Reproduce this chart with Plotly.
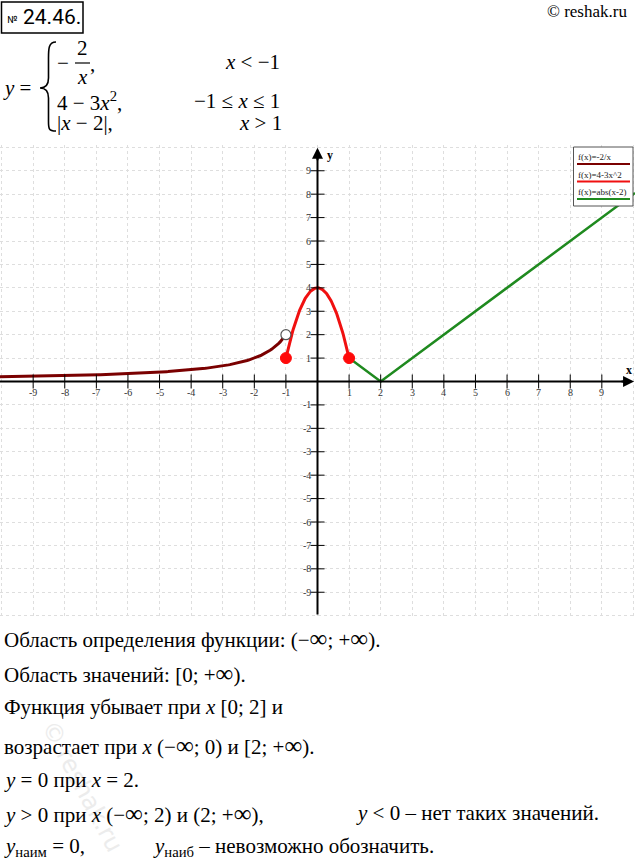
import numpy as np
import plotly.graph_objects as go

# ---------------- data ----------------
W, H = 635, 860
T_MARGIN, B_MARGIN = 145, 242
X_RANGE = [-10.05, 10.05]
Y_RANGE = [-10.1, 10.1]

x_hyp = np.linspace(-10.05, -1.0, 200)           # f(x) = -2/x, x < -1
y_hyp = -2.0 / x_hyp
x_par = np.linspace(-1.0, 1.0, 120)              # f(x) = 4 - 3x^2, -1 <= x <= 1
y_par = 4 - 3 * x_par ** 2
x_abs = np.array([1.0, 2.0, 10.05])              # f(x) = |x - 2|, x > 1
y_abs = np.abs(x_abs - 2)

filled_x = [-1, 1]
filled_y = [1, 1]
open_x = [-1]
open_y = [2]

tick_vals = [i for i in range(-9, 10) if i != 0]
legend_labels = ["f(x)=-2/x", "f(x)=4-3x^2", "f(x)=abs(x-2)"]

C_HYP = "#7a0000"
C_PAR = "#f01010"
C_ABS = "#1f8a1f"
SERIF = "Times New Roman"
SANS = "Roboto"

# pixel -> paper helpers (page layout only)
PLOT_H = H - T_MARGIN - B_MARGIN
def px(x):
    return x / W
def py(y):
    return (H - B_MARGIN - y) / PLOT_H

fig = go.Figure()

fig.add_trace(go.Scatter(x=x_hyp, y=y_hyp, mode="lines",
                         line=dict(color=C_HYP, width=3), hoverinfo="skip"))
fig.add_trace(go.Scatter(x=x_par, y=y_par, mode="lines",
                         line=dict(color=C_PAR, width=3), hoverinfo="skip"))
fig.add_trace(go.Scatter(x=x_abs, y=y_abs, mode="lines",
                         line=dict(color=C_ABS, width=2.5), hoverinfo="skip"))

# tick marks on the axes
fig.add_trace(go.Scatter(x=tick_vals, y=[0] * len(tick_vals), mode="markers",
                         marker=dict(symbol="line-ns", size=10,
                                     line=dict(color="black", width=1)),
                         hoverinfo="skip"))
fig.add_trace(go.Scatter(x=[0] * len(tick_vals), y=tick_vals, mode="markers",
                         marker=dict(symbol="line-ew", size=10,
                                     line=dict(color="black", width=1)),
                         hoverinfo="skip"))

fig.add_trace(go.Scatter(x=filled_x, y=filled_y, mode="markers",
                         marker=dict(size=11, color="#ff0a0a",
                                     line=dict(color="#ff0a0a", width=1)),
                         hoverinfo="skip"))
fig.add_trace(go.Scatter(x=open_x, y=open_y, mode="markers",
                         marker=dict(size=10, color="white",
                                     line=dict(color="#555555", width=1.2)),
                         hoverinfo="skip"))

shapes = []
annotations = []

# faint watermark (drawn first, under the text)
annotations.append(dict(x=px(82), y=py(786), xref="paper", yref="paper",
                        text="© reshak.ru", showarrow=False, textangle=62,
                        xanchor="center", yanchor="middle",
                        font=dict(family="DejaVu Sans", size=24, color="#ececec")))

# axes
shapes.append(dict(type="line", xref="x", yref="y", x0=X_RANGE[0], x1=9.9,
                   y0=0, y1=0, line=dict(color="black", width=2), layer="above"))
shapes.append(dict(type="line", xref="x", yref="y", x0=0, x1=0,
                   y0=-9.95, y1=9.85, line=dict(color="black", width=2), layer="above"))
annotations.append(dict(x=10.02, y=0, xref="x", yref="y", ax=-14, ay=0,
                        showarrow=True, arrowhead=2, arrowsize=1.1,
                        arrowwidth=2, arrowcolor="black", text=""))
annotations.append(dict(x=0, y=9.98, xref="x", yref="y", ax=0, ay=14,
                        showarrow=True, arrowhead=2, arrowsize=1.1,
                        arrowwidth=2, arrowcolor="black", text=""))

# tick labels
for v in tick_vals:
    annotations.append(dict(x=v, y=0, xref="x", yref="y", text=str(v),
                            showarrow=False, yshift=-11, xanchor="center", yanchor="middle",
                            font=dict(family=SERIF, size=10, color="#333")))
    annotations.append(dict(x=0, y=v, xref="x", yref="y", text=str(v),
                            showarrow=False, xanchor="right", yanchor="middle", xshift=-5,
                            font=dict(family=SERIF, size=10, color="#333")))


def txt(x, y, s, anchor="left", size=21, family=SERIF, color="black"):
    annotations.append(dict(x=px(x), y=py(y), xref="paper", yref="paper",
                            text=s, showarrow=False, xanchor=anchor, yanchor="middle",
                            borderpad=0,
                            font=dict(family=family, size=size, color=color)))


txt(629, 370, "<b>x</b>", anchor="center", size=12)
txt(330, 155, "<b>y</b>", anchor="center", size=12)

# custom legend box
shapes.append(dict(type="rect", xref="paper", yref="paper",
                   x0=px(573.5), x1=px(633), y0=py(147), y1=py(206),
                   fillcolor="white", line=dict(color="#555", width=1), layer="above"))
leg_cols = [C_HYP, C_PAR, C_ABS]
for i, (lab, col) in enumerate(zip(legend_labels, leg_cols)):
    ty = 157 + 17.5 * i
    txt(577, ty, lab, size=9, color="#222")
    shapes.append(dict(type="line", xref="paper", yref="paper",
                       x0=px(577), x1=px(630), y0=py(ty + 7), y1=py(ty + 7),
                       line=dict(color=col, width=2), layer="above"))

# header
shapes.append(dict(type="rect", xref="paper", yref="paper",
                   x0=px(1.5), x1=px(83), y0=py(2), y1=py(33),
                   line=dict(color="black", width=1.5), fillcolor="rgba(0,0,0,0)"))
txt(6, 20, "№", size=10, family=SANS)
txt(22, 17, "24.46.", size=21, family=SANS)
txt(628, 12, "© reshak.ru", anchor="right", size=17)

# piecewise formula
txt(2, 88, "<i>y</i> =")
txt(56, 63, "−")
txt(82.5, 48, "2", anchor="center")
txt(82.5, 77, "<i>x</i>", anchor="center")
txt(89, 64, ",")
shapes.append(dict(type="line", xref="paper", yref="paper",
                   x0=px(75), x1=px(90), y0=py(63), y1=py(63),
                   line=dict(color="black", width=1.2)))
txt(281, 62, "<i>x</i> < −1", anchor="right")
txt(56, 101, "4 − 3<i>x</i><sup>2</sup>,")
txt(281, 101, "−1 ≤ <i>x</i> ≤ 1", anchor="right")
txt(56, 123, "|<i>x</i> − 2|,")
txt(283, 123, "<i>x</i> > 1", anchor="right")

# brace path
pts = [(56, 42), (48, 42), (48.5, 50), (48.5, 60), (48.5, 78), (48.5, 85), (45, 88), (40, 88),
       (45, 88), (48.5, 91), (48.5, 98), (48.5, 120), (48.5, 128), (48, 131), (56, 131)]
def P(p):
    return f"{px(p[0])},{py(p[1])}"
path = (f"M {P(pts[0])} C {P(pts[1])} {P(pts[2])} {P(pts[3])} L {P(pts[4])} "
        f"C {P(pts[5])} {P(pts[6])} {P(pts[7])} C {P(pts[8])} {P(pts[9])} {P(pts[10])} "
        f"L {P(pts[11])} C {P(pts[12])} {P(pts[13])} {P(pts[14])}")
shapes.append(dict(type="path", xref="paper", yref="paper", path=path,
                   line=dict(color="black", width=1.6)))

# bottom text
BS = 21
NB = "\u00a0"
INF = "<span style='font-size:25px'>∞</span>"
lines = [
    (3, 638, f"Область определения функции: (−{INF};{NB}+{INF})."),
    (3, 673, f"Область значений: [0;{NB}+{INF})."),
    (3, 707, f"Функция убывает при <i>x</i> [0;{NB}2] и"),
    (3, 745, f"возрастает при <i>x</i> (−{INF};{NB}0) и [2;{NB}+{INF})."),
    (3, 780, "<i>y</i> = 0 при <i>x</i> = 2."),
    (3, 813, f"<i>y</i> > 0 при <i>x</i> (−{INF};{NB}2) и (2;{NB}+{INF}),"),
    (355, 813, "<i>y</i> < 0 – нет таких значений."),
    (3, 847, "<i>y</i><sub>наим</sub> = 0,"),
    (152, 847, "<i>y</i><sub>наиб</sub> – невозможно обозначить."),
]
for x, y, s in lines:
    txt(x, y, s, size=BS)

fig.update_layout(
    width=W, height=H,
    margin=dict(l=0, r=0, t=T_MARGIN, b=B_MARGIN),
    paper_bgcolor="white", plot_bgcolor="white",
    showlegend=False,
    shapes=shapes, annotations=annotations,
    xaxis=dict(range=X_RANGE, tick0=0, dtick=1, showgrid=True,
               gridcolor="#dedede", griddash="dot", gridwidth=1,
               zeroline=False, showticklabels=False, showline=False, ticks="",
               fixedrange=True),
    yaxis=dict(range=Y_RANGE, tick0=0, dtick=1, showgrid=True,
               gridcolor="#dedede", griddash="dot", gridwidth=1,
               zeroline=False, showticklabels=False, showline=False, ticks="",
               fixedrange=True),
)

fig.write_html("out.html")
